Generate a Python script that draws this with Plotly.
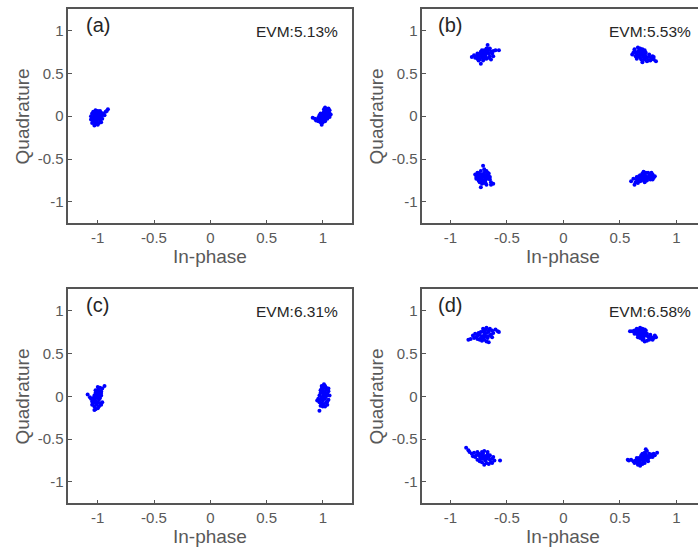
import plotly.graph_objects as go

# ---------------- data ----------------
tick_vals = [-1, -0.5, 0, 0.5, 1]
tick_text = ["-1", "-0.5", "0", "0.5", "1"]
panel_labels = ["(a)", "(b)", "(c)", "(d)"]
evm_labels = ["EVM:5.13%", "EVM:5.53%", "EVM:6.31%", "EVM:6.58%"]

a_left = [
(-1.01,0.00),(-1.03,0.02),(-0.99,0.01),(-1.02,-0.02),(-1.00,-0.03),(-1.04,-0.01),(-0.98,-0.02),(-1.01,0.04),(-1.03,-0.05),(-0.99,0.03),
(-1.05,0.03),(-1.02,0.05),(-0.97,0.00),(-1.00,0.06),(-1.04,-0.06),(-1.01,-0.07),(-0.98,-0.05),(-1.05,-0.03),(-1.06,0.00),(-0.96,0.02),
(-1.02,-0.09),(-0.99,-0.08),(-1.04,0.05),(-0.97,0.04),(-1.00,-0.10),(-1.03,-0.11),(-0.95,0.03),(-0.94,0.01),(-0.93,0.05),(-0.91,0.08),
(-0.92,0.06),(-0.96,-0.03),(-1.06,-0.04),(-1.05,-0.08),(-0.98,0.06),(-1.02,0.07),(-1.00,0.02),(-1.01,-0.04),(-0.97,-0.07),(-1.03,0.00)]
a_right = [
(1.00,0.00),(1.02,0.02),(0.99,-0.02),(1.03,0.04),(1.01,-0.03),(1.04,0.01),(0.98,0.00),(1.02,0.06),(1.00,0.03),(1.05,0.05),
(1.03,-0.01),(0.97,-0.03),(1.01,0.05),(1.04,0.08),(1.06,0.03),(0.99,-0.05),(1.02,-0.04),(0.96,-0.02),(0.95,-0.04),(0.93,-0.03),
(0.91,-0.02),(0.94,-0.05),(1.00,-0.07),(0.99,-0.10),(1.05,0.09),(1.02,0.10),(1.06,0.07),(1.07,0.02),(1.03,0.07),(0.98,0.03),
(1.01,0.08),(0.97,0.01),(1.04,-0.03),(1.00,-0.05),(0.98,-0.07),(1.06,-0.01),(1.03,0.00),(0.96,-0.06),(1.02,-0.06),(1.05,0.00)]

b_ul = [
(-0.70,0.72),(-0.72,0.70),(-0.68,0.74),(-0.71,0.75),(-0.74,0.71),(-0.69,0.69),(-0.66,0.73),(-0.73,0.73),(-0.67,0.76),(-0.75,0.69),
(-0.70,0.67),(-0.65,0.70),(-0.72,0.77),(-0.77,0.70),(-0.78,0.68),(-0.81,0.69),(-0.76,0.73),(-0.68,0.79),(-0.67,0.83),(-0.64,0.75),
(-0.62,0.76),(-0.60,0.77),(-0.57,0.77),(-0.62,0.70),(-0.64,0.66),(-0.73,0.61),(-0.71,0.65),(-0.74,0.66),(-0.69,0.71),(-0.66,0.78),
(-0.71,0.72),(-0.73,0.75),(-0.79,0.71),(-0.75,0.65),(-0.63,0.73),(-0.68,0.67),(-0.70,0.77),(-0.65,0.79),(-0.72,0.68),(-0.76,0.67),
(-0.69,0.74),(-0.66,0.68)]
b_ur = [
(0.68,0.73),(0.66,0.75),(0.70,0.71),(0.67,0.77),(0.72,0.72),(0.65,0.72),(0.69,0.76),(0.71,0.69),(0.64,0.74),(0.68,0.79),
(0.66,0.80),(0.63,0.76),(0.62,0.74),(0.61,0.72),(0.73,0.70),(0.74,0.68),(0.76,0.69),(0.78,0.67),(0.80,0.66),(0.82,0.64),
(0.79,0.70),(0.75,0.65),(0.72,0.66),(0.70,0.63),(0.68,0.68),(0.66,0.70),(0.73,0.74),(0.70,0.78),(0.64,0.70),(0.67,0.71),
(0.71,0.75),(0.69,0.66),(0.76,0.72),(0.63,0.78),(0.74,0.64),(0.77,0.65),(0.65,0.67),(0.69,0.73),(0.72,0.77),(0.80,0.69)]
b_ll = [
(-0.71,-0.70),(-0.73,-0.68),(-0.69,-0.72),(-0.72,-0.73),(-0.70,-0.66),(-0.74,-0.71),(-0.68,-0.69),(-0.71,-0.75),(-0.75,-0.67),(-0.67,-0.73),
(-0.73,-0.64),(-0.70,-0.62),(-0.71,-0.58),(-0.76,-0.70),(-0.77,-0.73),(-0.78,-0.68),(-0.66,-0.70),(-0.65,-0.74),(-0.69,-0.77),(-0.72,-0.79),
(-0.73,-0.83),(-0.68,-0.80),(-0.64,-0.77),(-0.62,-0.79),(-0.64,-0.80),(-0.75,-0.75),(-0.74,-0.77),(-0.70,-0.78),(-0.67,-0.66),(-0.72,-0.71),
(-0.69,-0.74),(-0.76,-0.66),(-0.66,-0.67),(-0.73,-0.76),(-0.70,-0.70),(-0.68,-0.64),(-0.77,-0.71),(-0.65,-0.71),(-0.71,-0.68),(-0.74,-0.73)]
b_lr = [
(0.71,-0.72),(0.69,-0.71),(0.73,-0.70),(0.70,-0.74),(0.75,-0.72),(0.67,-0.73),(0.72,-0.68),(0.74,-0.75),(0.68,-0.69),(0.76,-0.69),
(0.70,-0.67),(0.73,-0.66),(0.78,-0.71),(0.79,-0.68),(0.80,-0.72),(0.77,-0.74),(0.66,-0.75),(0.64,-0.77),(0.63,-0.80),(0.62,-0.73),
(0.65,-0.71),(0.66,-0.78),(0.68,-0.76),(0.72,-0.77),(0.75,-0.66),(0.71,-0.65),(0.78,-0.66),(0.81,-0.70),(0.74,-0.73),(0.69,-0.75),
(0.72,-0.74),(0.76,-0.71),(0.67,-0.70),(0.60,-0.76),(0.70,-0.70),(0.73,-0.72),(0.77,-0.68),(0.65,-0.74),(0.79,-0.74),(0.71,-0.69)]

c_left = [
(-1.00,0.00),(-0.99,0.03),(-1.01,-0.02),(-0.98,0.05),(-1.00,0.07),(-0.99,0.09),(-0.97,0.06),(-0.98,0.02),(-1.02,0.04),(-1.01,0.01),
(-1.03,-0.04),(-1.02,-0.06),(-1.04,-0.08),(-1.00,-0.07),(-0.98,-0.08),(-1.01,-0.10),(-1.03,-0.12),(-1.02,-0.15),(-1.03,-0.16),(-0.97,-0.10),
(-1.05,-0.06),(-1.06,-0.03),(-1.07,-0.01),(-1.09,0.02),(-0.94,0.12),(-0.96,0.09),(-0.98,0.10),(-1.00,0.11),(-0.97,0.01),(-0.99,-0.04),
(-1.02,0.07),(-1.01,0.05),(-1.04,-0.02),(-0.96,-0.07),(-0.99,-0.12),(-1.00,-0.14),(-1.05,-0.10),(-0.98,-0.02),(-1.03,0.01),(-1.00,0.03),
(-0.97,0.04),(-1.01,-0.08)]
c_right = [
(1.00,0.00),(1.01,0.03),(0.99,-0.02),(1.02,0.05),(1.00,0.07),(1.01,0.10),(1.02,0.12),(1.01,0.14),(0.99,0.09),(1.03,0.08),
(1.04,0.03),(1.03,0.00),(1.02,-0.03),(1.00,-0.05),(0.98,-0.04),(0.96,-0.03),(0.95,-0.05),(0.97,-0.07),(0.99,-0.08),(1.01,-0.09),
(1.03,-0.07),(1.04,-0.10),(1.02,-0.12),(0.98,-0.11),(0.97,-0.17),(1.05,0.06),(1.06,0.01),(1.05,-0.04),(0.98,0.04),(0.97,0.01),
(1.01,-0.01),(0.99,0.05),(1.03,0.10),(0.98,0.07),(1.00,-0.12),(1.04,-0.06),(1.02,0.02),(0.99,0.12),(1.05,0.09),(1.00,0.04)]

d_ul = [
(-0.70,0.72),(-0.72,0.70),(-0.68,0.74),(-0.71,0.76),(-0.74,0.72),(-0.67,0.70),(-0.69,0.78),(-0.66,0.75),(-0.73,0.68),(-0.76,0.71),
(-0.78,0.73),(-0.79,0.68),(-0.82,0.67),(-0.84,0.66),(-0.77,0.69),(-0.75,0.74),(-0.70,0.66),(-0.68,0.64),(-0.66,0.63),(-0.72,0.65),
(-0.64,0.72),(-0.62,0.74),(-0.60,0.78),(-0.58,0.76),(-0.57,0.75),(-0.63,0.77),(-0.65,0.79),(-0.68,0.80),(-0.71,0.79),(-0.67,0.68),
(-0.69,0.70),(-0.73,0.75),(-0.65,0.71),(-0.74,0.66),(-0.71,0.68),(-0.66,0.77),(-0.76,0.67),(-0.70,0.75),(-0.63,0.69),(-0.80,0.71)]
d_ur = [
(0.68,0.74),(0.66,0.76),(0.70,0.72),(0.67,0.78),(0.72,0.74),(0.64,0.75),(0.69,0.77),(0.71,0.70),(0.65,0.73),(0.67,0.71),
(0.63,0.77),(0.61,0.76),(0.59,0.76),(0.73,0.71),(0.75,0.70),(0.77,0.72),(0.78,0.69),(0.80,0.68),(0.82,0.69),(0.79,0.66),
(0.76,0.66),(0.74,0.65),(0.72,0.64),(0.70,0.66),(0.68,0.68),(0.66,0.69),(0.73,0.77),(0.70,0.79),(0.68,0.80),(0.65,0.79),
(0.71,0.76),(0.69,0.70),(0.74,0.73),(0.63,0.73),(0.76,0.68),(0.71,0.67),(0.66,0.72),(0.69,0.74),(0.72,0.78),(0.81,0.71)]
d_ll = [
(-0.70,-0.71),(-0.72,-0.69),(-0.68,-0.73),(-0.71,-0.67),(-0.74,-0.70),(-0.69,-0.75),(-0.66,-0.71),(-0.73,-0.73),(-0.67,-0.68),(-0.75,-0.67),
(-0.77,-0.69),(-0.79,-0.66),(-0.81,-0.67),(-0.83,-0.65),(-0.86,-0.60),(-0.84,-0.63),(-0.78,-0.71),(-0.76,-0.74),(-0.72,-0.65),(-0.70,-0.64),
(-0.65,-0.74),(-0.63,-0.73),(-0.61,-0.75),(-0.56,-0.75),(-0.64,-0.77),(-0.66,-0.79),(-0.68,-0.78),(-0.70,-0.80),(-0.72,-0.77),(-0.74,-0.76),
(-0.69,-0.70),(-0.71,-0.73),(-0.67,-0.65),(-0.73,-0.68),(-0.65,-0.69),(-0.62,-0.71),(-0.80,-0.70),(-0.76,-0.65),(-0.68,-0.70),(-0.63,-0.78),
(-0.71,-0.71)]
d_lr = [
(0.70,-0.73),(0.68,-0.75),(0.72,-0.71),(0.69,-0.71),(0.71,-0.76),(0.74,-0.70),(0.66,-0.74),(0.73,-0.68),(0.67,-0.77),(0.75,-0.73),
(0.72,-0.66),(0.74,-0.64),(0.73,-0.62),(0.76,-0.67),(0.78,-0.68),(0.80,-0.67),(0.83,-0.66),(0.81,-0.69),(0.77,-0.71),(0.65,-0.77),
(0.64,-0.75),(0.62,-0.76),(0.60,-0.74),(0.58,-0.75),(0.57,-0.74),(0.63,-0.78),(0.66,-0.80),(0.68,-0.81),(0.70,-0.79),(0.72,-0.78),
(0.69,-0.69),(0.71,-0.70),(0.67,-0.72),(0.75,-0.76),(0.70,-0.67),(0.65,-0.72),(0.76,-0.70),(0.73,-0.74),(0.68,-0.78),(0.79,-0.71),
(0.71,-0.73)]

panels = [
    [a_left, a_right],
    [b_ul, b_ur, b_ll, b_lr],
    [c_left, c_right],
    [d_ul, d_ur, d_ll, d_lr],
]

# ---------------- layout geometry ----------------
W, H = 698, 552
AX = "#555555"
TXT = "#595959"
FONT = "Liberation Sans, Arial, Helvetica, sans-serif"

# pixel boxes (left, right, top, bottom)
boxes = [
    (68.3, 352.3, 9.0, 223.3),
    (422.3, 698.0, 9.0, 223.3),
    (68.3, 352.3, 289.3, 503.3),
    (422.3, 698.0, 289.3, 503.3),
]
xranges = [[-1.262, 1.262], [-1.248, 1.192], [-1.262, 1.262], [-1.248, 1.192]]
yrange = [-1.25, 1.25]

fig = go.Figure()
layout = dict(
    width=W, height=H,
    margin=dict(l=0, r=0, t=0, b=0),
    paper_bgcolor="white", plot_bgcolor="white",
    showlegend=False,
    font=dict(family=FONT, color=TXT, size=15),
)
annotations = []
for i, clusters in enumerate(panels):
    n = i + 1
    xa = "x" if n == 1 else f"x{n}"
    ya = "y" if n == 1 else f"y{n}"
    xs, ys = [], []
    for cl in clusters:
        xs += [p[0] for p in cl]
        ys += [p[1] for p in cl]
    fig.add_trace(go.Scatter(x=xs, y=ys, mode="markers", xaxis=xa, yaxis=ya,
                             marker=dict(color="#0000ff", size=4, line=dict(width=0)),
                             hoverinfo="skip"))
    l, r, t, b = boxes[i]
    common = dict(showgrid=False, zeroline=False, showline=True, linecolor=AX, linewidth=1.5,
                  ticks="inside", ticklen=4, tickwidth=1.2, tickcolor=AX,
                  tickvals=tick_vals, ticktext=tick_text,
                  tickfont=dict(family=FONT, size=15, color=TXT))
    layout["xaxis" if n == 1 else f"xaxis{n}"] = dict(
        common, domain=[l / W, r / W], range=xranges[i], anchor=ya, mirror=True)
    layout["yaxis" if n == 1 else f"yaxis{n}"] = dict(
        common, domain=[(H - b) / H, (H - t) / H], range=yrange, anchor=xa,
        mirror=(r < W))
    # panel label and EVM text
    annotations.append(dict(xref=xa, yref=ya, x=-1.0, y=1.068, text=panel_labels[i],
                            showarrow=False, xanchor="center", yanchor="middle",
                            font=dict(family=FONT, size=20, color="#262626")))
    annotations.append(dict(xref=xa, yref=ya, x=1.15, y=0.985, text=evm_labels[i],
                            showarrow=False, xanchor="right", yanchor="middle",
                            font=dict(family=FONT, size=15.5, color="#262626")))
    # axis titles
    x0px = l + (0 - xranges[i][0]) / (xranges[i][1] - xranges[i][0]) * (r - l)
    annotations.append(dict(xref="paper", yref="paper", x=x0px / W, y=(H - (b + 33)) / H,
                            text="In-phase", showarrow=False, xanchor="center", yanchor="middle",
                            font=dict(family=FONT, size=19, color=TXT)))
    annotations.append(dict(xref="paper", yref="paper", x=(l - 46) / W, y=(H - (t + b) / 2) / H,
                            text="Quadrature", showarrow=False, textangle=-90,
                            xanchor="center", yanchor="middle",
                            font=dict(family=FONT, size=19, color=TXT)))
layout["annotations"] = annotations
fig.update_layout(**layout)

fig.write_html("out.html", config={"displayModeBar": False},
               post_script="document.body.style.margin='0px';")
